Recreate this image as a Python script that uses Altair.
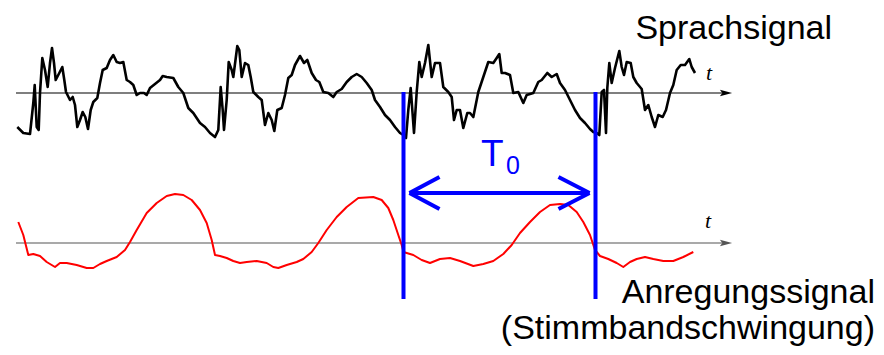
import altair as alt
import pandas as pd

# ---- data (time axis in picture units, amplitude up = positive)
sprach_t = [17.3, 23.3, 30, 33.3, 34.7, 36.7, 38.7, 40, 42.3, 45, 47.7, 50, 52, 54, 55.7, 59.3, 62.3, 64.3,
            66, 70, 72.7, 75, 77.3, 80, 82.7, 85.3, 88, 90.7, 93.3, 97.3, 100, 102.7, 106.7, 110, 113.3,
            116.7, 120, 123.3, 126.7, 130, 133.3, 136.7, 140, 144, 146.7, 150, 155, 160, 162.7, 166.7,
            173.3, 178.3, 183.3, 188.3, 193.3, 200, 205, 210, 215, 218.3, 220.7, 222.7, 224, 226.7, 228.7,
            231.7, 233.3, 237.3, 239.3, 241.7, 245, 248.3, 250.7, 253.3, 258.3, 261.7, 265, 268.3, 271.7,
            274.3, 277.3, 281.7, 285, 288.3, 291.7, 295, 300, 304, 307.3, 311.7, 316, 319.3, 323.3, 328.3,
            333.3, 336.7, 341.7, 346.7, 351.7, 356.7, 361.7, 366.7, 371.7, 375, 380, 385, 390, 395, 400,
            403.3, 406, 408.3, 410.7, 414, 416.7, 419.3, 421.7, 425, 428.3, 431.7, 435, 440, 443.3, 448.3,
            451.7, 454, 456.7, 460, 463.3, 467.3, 470, 473.3, 478.3, 483.3, 488.3, 493.3, 496.7, 499.3,
            501.7, 505, 510, 513.3, 518.3, 523.3, 526.7, 533.3, 538.3, 541.7, 547.3, 551.7, 556.7, 560,
            565, 570, 575, 580, 585, 590, 593.3, 596.7, 599.3, 601.7, 604, 606, 607.3, 609.3, 611.7, 615,
            619.3, 621.7, 624, 626.7, 630.7, 633.3, 636.7, 641.7, 645, 648.3, 651.7, 655, 658.3, 662.7,
            666, 670, 673.3, 676.7, 680.7, 685, 689.3, 691.7, 695]
sprach_a = [-34, -40, -41, -10, 8, -34, -37, 0, 35, 23, 6, 30, 45, 30, 13, 20, 26, 13,
            1, -7, -4, -12, -34, -27, -19, -24, -36, -17, -9, -5, 10, 23, 25, 33, 38,
            31, 30, 31, 13, 11, 8, -2, 0, 0, -2, 5, 9, 13, 17, 16,
            15, 6, 0, -15, -20, -30, -34, -40, -44, -37, 6, -17, -37, -7, 31,
            23, 16, 47, 43, 16, 30, 28, 16, 1, -4, -7, -32, -20, -27,
            -38, -17, -15, -2, 15, 18, 28, 37, 30, 33, 20, 13, 11, 1, 0,
            -4, 1, 4, 11, 16, 19, 16, 10, 3, -7, -14, -22, -27, -34, -40,
            -42, -45, -17, 5, -40, 1, 31, 16, 30, 48, 16, 30, 30, 6, 1,
            -4, -27, -17, -17, -35, -20, -20, -24, 1, 16, 31, 30, 35, 39,
            20, 20, 18, 0, 1, -10, -2, 0, 11, 13, 20, 16, 19, 10,
            3, -7, -17, -25, -30, -36, -39, -40, -42, 1, 3, -40, 5, 30, 10, 25,
            42, 26, 18, 31, 30, 16, 10, 4, -17, -12, -24, -34, -22, -24,
            -17, 0, 8, 23, 28, 28, 34, 26, 20]

anreg_t = [18.3, 23.3, 28.3, 33.3, 40, 46.7, 55, 60, 66.7, 76.7, 86.7, 93.3, 100, 106.7, 116.7, 125, 130,
           136.7, 146.7, 156.7, 166.7, 175, 183.3, 191.7, 200, 206.7, 211.7, 215, 220, 226.7, 233.3, 240,
           246.7, 256.7, 266.7, 273.3, 278.3, 286.7, 296.7, 303.3, 311.7, 318.3, 326.7, 336.7, 346.7, 358.3,
           373.3, 381.7, 388.3, 393.3, 398.3, 401.7, 403.5, 406.7, 413.3, 421.7, 430, 440, 450, 460, 473.3,
           483.3, 493.3, 503.3, 511.7, 520, 530, 540, 550, 560, 568.3, 576.7, 583.3, 590, 595, 600, 608.3,
           616.7, 623.3, 630, 636.7, 645, 653.3, 663.3, 673.3, 683.3, 693.3]
anreg_a = [21, 8, -12, -11, -13, -19, -24, -20, -20, -22, -25, -25, -21, -18, -14, -7, 1,
           13, 30, 40, 47, 49, 48, 43, 33, 20, 3, -12, -13, -15, -18, -20,
           -19, -18, -20, -24, -25, -22, -19, -16, -9, 0, 13, 26, 36, 45,
           46, 43, 35, 23, 8, -2, -9, -10, -12, -17, -20, -16, -15, -18, -23,
           -21, -18, -11, -2, 10, 21, 31, 38, 39, 38, 31, 21, 8, -7, -13, -16,
           -20, -24, -19, -16, -14, -16, -18, -18, -14, -9]

period_start = 403.5
period_end = 595.5

labels = ["Sprachsignal", "Anregungssignal", "(Stimmbandschwingung)"]

# ---- layout constants (picture coordinates)
W, H = 868, 339
BASE_TOP, BASE_BOT = 93, 243
AX_X0, AX_X1 = 16, 726

xs = alt.Scale(domain=[8, 8 + W], nice=False, zero=False)
ys = alt.Scale(domain=[8, 8 + H], nice=False, zero=False, reverse=True)
X = lambda f: alt.X(f, type="quantitative", scale=xs, axis=None)
Y = lambda f: alt.Y(f, type="quantitative", scale=ys, axis=None)

sp = pd.DataFrame({"t": sprach_t, "y": [BASE_TOP - a for a in sprach_a]})
sp["i"] = range(len(sp))
an = pd.DataFrame({"t": anreg_t, "y": [BASE_BOT - a for a in anreg_a]})
an["i"] = range(len(an))

axes = pd.DataFrame({"x": [AX_X0, AX_X0], "x2": [AX_X1 - 4, AX_X1 - 4], "y": [BASE_TOP, BASE_BOT],
                     "c": ["#000000", "#555555"]})
heads = pd.DataFrame({"x": [AX_X1, AX_X1], "y": [BASE_TOP, BASE_BOT], "c": ["#000000", "#555555"]})

axis_rules = alt.Chart(axes).mark_rule(strokeWidth=1.2).encode(
    x=X("x"), x2="x2", y=Y("y"), color=alt.Color("c:N", scale=None))
axis_heads = alt.Chart(heads).mark_point(
    shape="M-1,-0.55L1,0L-1,0.55L-0.6,0Z", size=150, filled=True, opacity=1).encode(
    x=X("x"), y=Y("y"), color=alt.Color("c:N", scale=None))

sprach = alt.Chart(sp).mark_line(color="#000000", strokeWidth=2.6, strokeJoin="round").encode(
    x=X("t"), y=Y("y"), order="i:Q")
anreg = alt.Chart(an).mark_line(color="#ff0000", strokeWidth=2, strokeJoin="round").encode(
    x=X("t"), y=Y("y"), order="i:Q")

vert = pd.DataFrame({"x": [period_start, period_end], "y": [92, 92], "y2": [299, 299]})
vlines = alt.Chart(vert).mark_rule(color="#0000ff", strokeWidth=4).encode(
    x=X("x"), y=Y("y"), y2="y2")

ay = 193
seg = pd.DataFrame({
    "x": [period_start + 6, period_start + 6, period_start + 6, period_end - 6, period_end - 6],
    "x2": [period_end - 6, period_start + 36, period_start + 36, period_end - 37, period_end - 37],
    "y": [ay, ay, ay, ay, ay],
    "y2": [ay, ay - 16, ay + 16, ay - 16, ay + 16],
})
arrow = alt.Chart(seg).mark_rule(color="#0000ff", strokeWidth=4, strokeCap="butt").encode(
    x=X("x"), x2="x2", y=Y("y"), y2="y2")

t_lab = alt.Chart(pd.DataFrame({"x": [481], "y": [166], "s": ["T"]})).mark_text(
    font="Liberation Sans", fontSize=37, color="#0000ff", align="left", baseline="alphabetic").encode(
    x=X("x"), y=Y("y"), text="s:N")
t0_lab = alt.Chart(pd.DataFrame({"x": [506], "y": [174], "s": ["0"]})).mark_text(
    font="Liberation Sans", fontSize=25, color="#0000ff", align="left", baseline="alphabetic").encode(
    x=X("x"), y=Y("y"), text="s:N")

tt = alt.Chart(pd.DataFrame({"x": [706, 705], "y": [80, 228], "s": ["t", "t"]})).mark_text(
    font="Liberation Serif", fontStyle="italic", fontSize=22, color="#000000", align="left",
    baseline="alphabetic").encode(x=X("x"), y=Y("y"), text="s:N")

txt = alt.Chart(pd.DataFrame({"x": [832, 875, 875], "y": [39, 303, 339], "s": labels})).mark_text(
    font="Liberation Sans", fontSize=34, color="#000000", align="right", baseline="alphabetic").encode(
    x=X("x"), y=Y("y"), text="s:N")

chart = alt.layer(axis_rules, axis_heads, sprach, anreg, vlines, arrow, t_lab, t0_lab, tt, txt).properties(
    width=W, height=H, autosize=alt.AutoSizeParams(type="none"), padding=0
).configure_view(stroke=None)

chart.save("out.html", embed_options={"renderer": "svg", "actions": False})
